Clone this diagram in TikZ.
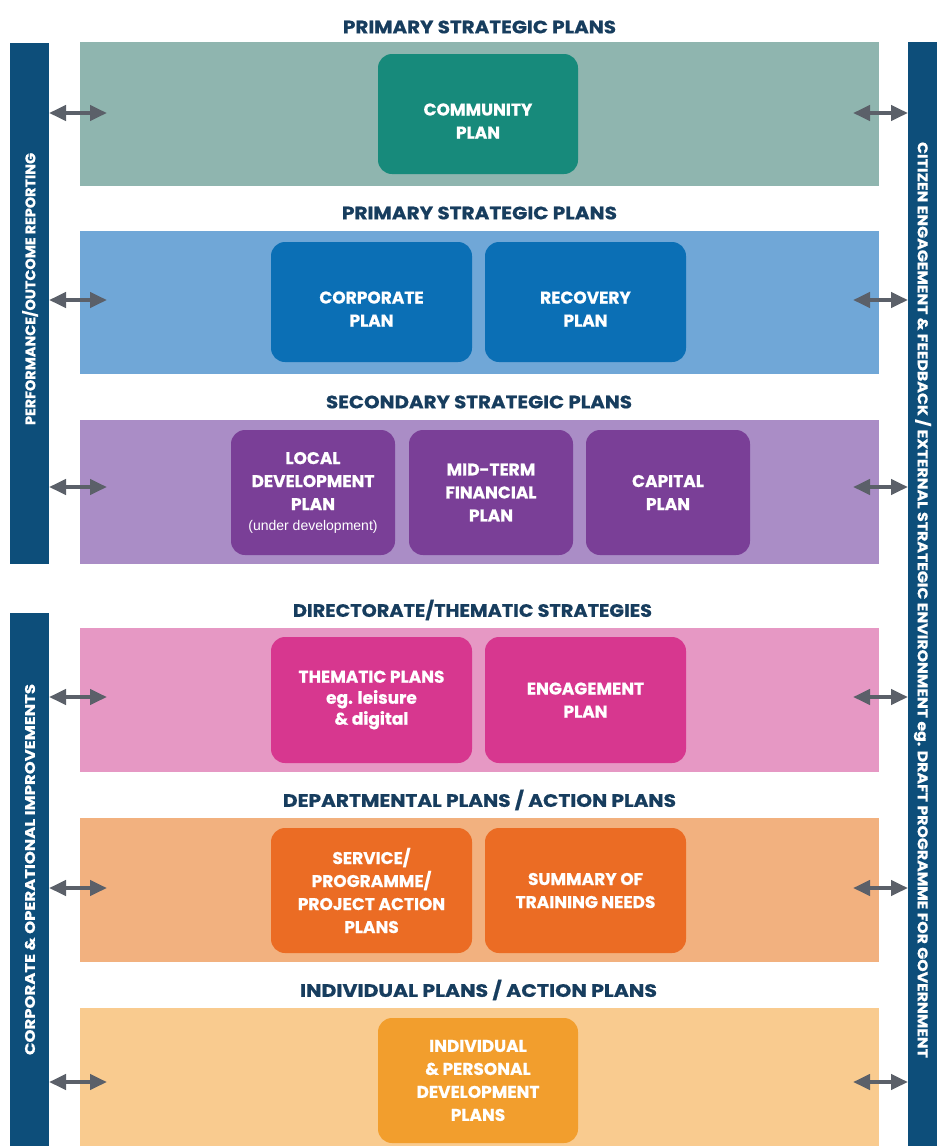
\documentclass[tikz,border=0pt]{standalone}
\usepackage{fontspec}
\setmainfont{Poppins}[BoldFeatures={FakeBold=0.6}]
\newfontfamily\argfont{Liberation Sans}
\usetikzlibrary{arrows.meta}
\definecolor{barblue}{HTML}{0D4E7A}
\definecolor{titleblue}{HTML}{173D5E}
\definecolor{arrowgrey}{HTML}{5B6069}
\definecolor{bandA}{HTML}{8FB5AF}
\definecolor{boxA}{HTML}{178A7B}
\definecolor{bandB}{HTML}{70A7D7}
\definecolor{boxB}{HTML}{0B6FB5}
\definecolor{bandC}{HTML}{AA8DC6}
\definecolor{boxC}{HTML}{7A3F97}
\definecolor{bandD}{HTML}{E698C4}
\definecolor{boxD}{HTML}{D7378F}
\definecolor{bandE}{HTML}{F2B17F}
\definecolor{boxE}{HTML}{EB6C24}
\definecolor{bandF}{HTML}{F9CB8F}
\definecolor{boxF}{HTML}{F29E2D}
\newcommand\wfit[2]{\resizebox{#1}{\height}{#2}}
\newcommand\pushdown{\rule{0pt}{0pt}\\[3pt]}
\begin{document}
\begin{tikzpicture}[x=1pt,y=-1pt,
  band/.style={draw=none,minimum width=799pt,inner sep=0pt,outer sep=0pt},
  plan/.style={rounded corners=14pt,text=white,align=center,inner sep=0pt,outer sep=0pt,
    font=\bfseries\fontsize{17}{23}\selectfont},
  ttl/.style={text=titleblue,inner sep=0pt,font=\bfseries\fontsize{18}{20}\selectfont},
  sidebar/.style={fill=barblue,inner sep=0pt,outer sep=0pt,minimum width=39pt},
  sidetext/.style={text=white,inner sep=0pt,font=\bfseries\fontsize{14}{14}\selectfont},
  dbl/.style={draw=arrowgrey,line width=4pt,
    {Triangle[length=17pt,width=15pt]}-{Triangle[length=17pt,width=15pt]}}]
\useasboundingbox (0,0) rectangle (937,1146);
\fill[white] (0,0) rectangle (937,1146);

% side bars
\node[sidebar,minimum height=521pt] (lb1) at (29.5,303.5) {};
\node[sidebar,minimum height=533pt] (lb2) at (29.5,879.5) {};
\node[sidebar,minimum width=29pt,minimum height=1104pt] (rb) at (922.5,594) {};
\node[sidetext,rotate=90] (lt1) at (30,289) {\wfit{272pt}{PERFORMANCE/OUTCOME REPORTING}};
\node[sidetext,rotate=90] (lt2) at (30,869.5) {\wfit{371pt}{CORPORATE \& OPERATIONAL IMPROVEMENTS}};
\node[sidetext,rotate=-90] (rt) at (922.5,600) {\wfit{916pt}{CITIZEN ENGAGEMENT \& FEEDBACK / EXTERNAL STRATEGIC ENVIRONMENT eg. DRAFT PROGRAMME FOR GOVERNMENT}};

% titles
\node[ttl] (t1) at (479.5,27) {\wfit{273pt}{PRIMARY STRATEGIC PLANS}};
\node[ttl] (t2) at (479.5,213) {\wfit{275pt}{PRIMARY STRATEGIC PLANS}};
\node[ttl] (t3) at (479,402) {\wfit{306pt}{SECONDARY STRATEGIC PLANS}};
\node[ttl] (t4) at (472.5,610) {\wfit{359pt}{DIRECTORATE/THEMATIC STRATEGIES}};
\node[ttl] (t5) at (479.5,800) {\wfit{393pt}{DEPARTMENTAL PLANS / ACTION PLANS}};
\node[ttl] (t6) at (478.5,990) {\wfit{357pt}{INDIVIDUAL PLANS / ACTION PLANS}};

% bands
\node[band,fill=bandA,minimum height=144pt] (b1) at (479.5,114) {};
\node[band,fill=bandB,minimum height=143pt] (b2) at (479.5,302.5) {};
\node[band,fill=bandC,minimum height=144pt] (b3) at (479.5,492) {};
\node[band,fill=bandD,minimum height=144pt] (b4) at (479.5,700) {};
\node[band,fill=bandE,minimum height=144pt] (b5) at (479.5,890) {};
\node[band,fill=bandF,minimum height=138pt] (b6) at (479.5,1077) {};

% plan boxes
\node[plan,fill=boxA,minimum width=200pt,minimum height=120pt] (community) at (478,114) {\pushdown COMMUNITY\\PLAN};
\node[plan,fill=boxB,minimum width=201pt,minimum height=120pt] (corporate) at (371.5,302) {\pushdown CORPORATE\\PLAN};
\node[plan,fill=boxB,minimum width=201pt,minimum height=120pt] (recovery) at (585.5,302) {\pushdown RECOVERY\\PLAN};
\node[plan,fill=boxC,minimum width=164pt,minimum height=125pt] (local) at (313,492.5) {LOCAL\\DEVELOPMENT\\PLAN\\[-3pt]{\argfont\mdseries\fontsize{14}{17}\selectfont(under development)}};
\node[plan,fill=boxC,minimum width=164pt,minimum height=125pt] (midterm) at (491,492.5) {MID-TERM\\FINANCIAL\\PLAN};
\node[plan,fill=boxC,minimum width=164pt,minimum height=125pt] (capital) at (668,492.5) {CAPITAL\\PLAN};
\node[plan,fill=boxD,minimum width=201pt,minimum height=126pt] (thematic) at (371.5,700) {THEMATIC PLANS\\[-2pt]eg. leisure\\[-2pt]\& digital};
\node[plan,fill=boxD,minimum width=201pt,minimum height=126pt] (engagement) at (585.5,700) {ENGAGEMENT\\PLAN};
\node[plan,fill=boxE,minimum width=201pt,minimum height=125pt] (service) at (371.5,890.5) {SERVICE/\\PROGRAMME/\\PROJECT ACTION\\PLANS};
\node[plan,fill=boxE,minimum width=201pt,minimum height=125pt] (summary) at (585.5,890.5) {SUMMARY OF\\TRAINING NEEDS};
\node[plan,fill=boxF,minimum width=200pt,minimum height=125pt] (individual) at (478,1080.5) {INDIVIDUAL\\\& PERSONAL\\DEVELOPMENT\\PLANS};

% arrows
\foreach \n/\y in {1/113,2/300,3/487} {
  \coordinate (la\n) at (107,\y);
  \coordinate (ra\n) at (853,\y);
  \draw[dbl] (lb1.east |- la\n) -- (la\n);
  \draw[dbl] (ra\n) -- (rb.west |- ra\n);
}
\foreach \n/\y in {4/697,5/888,6/1082} {
  \coordinate (la\n) at (107,\y);
  \coordinate (ra\n) at (853,\y);
  \draw[dbl] (lb2.east |- la\n) -- (la\n);
  \draw[dbl] (ra\n) -- (rb.west |- ra\n);
}
\end{tikzpicture}
\end{document}
